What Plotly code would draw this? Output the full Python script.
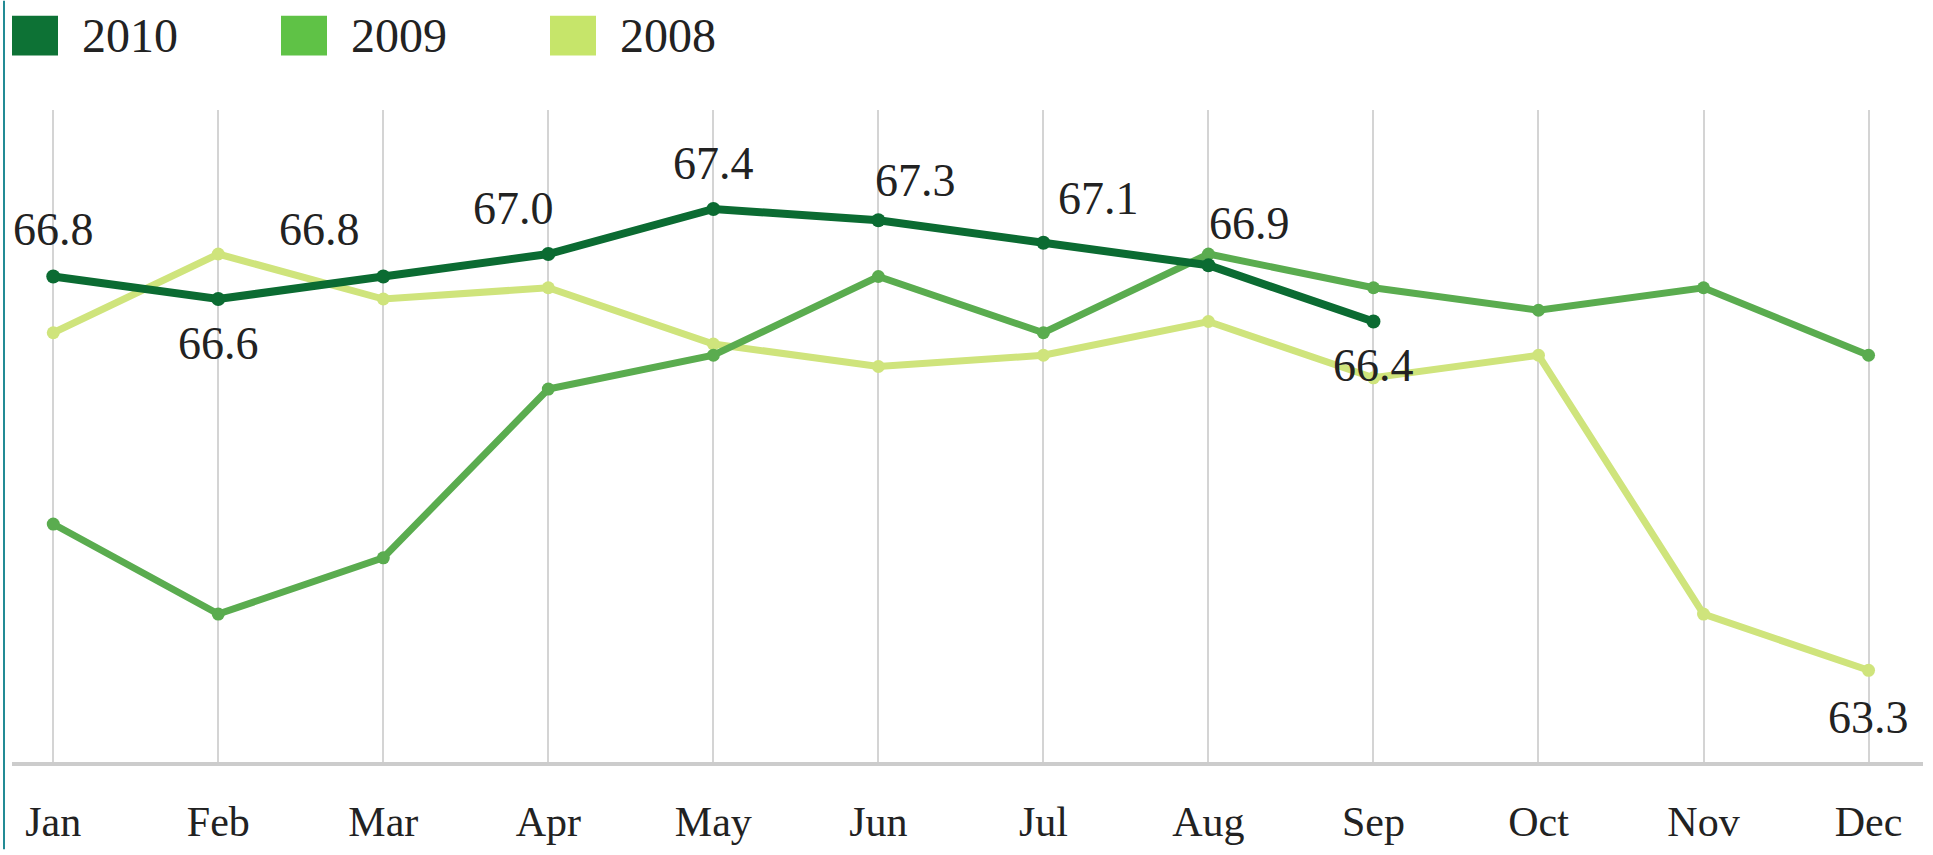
import plotly.graph_objects as go

# Monthly values by year
months = ["Jan", "Feb", "Mar", "Apr", "May", "Jun", "Jul", "Aug", "Sep", "Oct", "Nov", "Dec"]
values_2010 = [66.8, 66.6, 66.8, 67.0, 67.4, 67.3, 67.1, 66.9, 66.4]
values_2009 = [64.6, 63.8, 64.3, 65.8, 66.1, 66.8, 66.3, 67.0, 66.7, 66.5, 66.7, 66.1]
values_2008 = [66.3, 67.0, 66.6, 66.7, 66.2, 66.0, 66.1, 66.4, 65.9, 66.1, 63.8, 63.3]

series_names = ["2010", "2009", "2008"]
series_values = [values_2010, values_2009, values_2008]
series_colors = ["#0b6b32", "#5aac4f", "#cfe47c"]
legend_colors = ["#0d7235", "#5fc246", "#c6e56a"]
line_widths = [8, 7, 7]
marker_sizes = [14, 13, 13]

# Figure geometry (pixels)
W, H = 1933, 855
M_L, M_R, M_T, M_B = 12, 10, 110, 88
PLOT_W = W - M_L - M_R
PLOT_H = H - M_T - M_B

FONT = "Liberation Serif, Times New Roman, serif"
TEXT_COLOR = "#222222"


def px_x(x):
    return (x - M_L) / PLOT_W


def px_y(y):
    return (H - M_B - y) / PLOT_H


fig = go.Figure()

# draw older years first so 2010 sits on top
for name, vals, color, lw, ms in reversed(list(zip(series_names, series_values, series_colors, line_widths, marker_sizes))):
    fig.add_trace(go.Scatter(
        x=months[:len(vals)], y=vals, name=name, mode="lines+markers",
        line=dict(color=color, width=lw), marker=dict(color=color, size=ms),
        showlegend=False, hoverinfo="x+y+name",
    ))

# value labels for 2010 (offsets in pixels: dx, dy)
label_offsets_2010 = [(0, -47), (0, 44), (-64, -47), (-35, -46), (0, -46),
                      (37, -40), (55, -44), (41, -42), (0, 44)]
annotations = []
for m, v, (dx, dy) in zip(months, values_2010, label_offsets_2010):
    annotations.append(dict(
        x=m, y=v, text=f"{v:.1f}", showarrow=False, xanchor="center", yanchor="middle",
        xshift=dx, yshift=-dy, font=dict(family=FONT, size=46, color=TEXT_COLOR),
    ))
# December 2008 label
annotations.append(dict(
    x=months[11], y=values_2008[11], text=f"{values_2008[11]:.1f}", showarrow=False,
    xanchor="center", yanchor="middle", xshift=0, yshift=-47,
    font=dict(family=FONT, size=46, color=TEXT_COLOR),
))

# legend drawn as coloured squares with labels
shapes = []
for i, (name, color) in enumerate(zip(series_names, legend_colors)):
    x0 = 12 + i * 269
    shapes.append(dict(
        type="rect", xref="paper", yref="paper",
        x0=px_x(x0), x1=px_x(x0 + 46), y0=px_y(55), y1=px_y(15),
        fillcolor=color, line=dict(width=0),
    ))
    annotations.append(dict(
        xref="paper", yref="paper", x=px_x(x0 + 68), y=px_y(35), text=name,
        showarrow=False, xanchor="left", yanchor="middle",
        font=dict(family=FONT, size=48, color=TEXT_COLOR),
    ))

# thin frame line on the left edge
shapes.append(dict(
    type="line", xref="paper", yref="paper", x0=px_x(4), x1=px_x(4), y0=px_y(H), y1=px_y(0),
    line=dict(color="#238b95", width=2),
))

fig.update_layout(
    width=W, height=H,
    margin=dict(l=M_L, r=M_R, t=M_T, b=M_B),
    paper_bgcolor="white", plot_bgcolor="white",
    shapes=shapes, annotations=annotations,
    showlegend=False,
    xaxis=dict(
        type="category", categoryorder="array", categoryarray=months,
        range=[-0.25, 11.33], showgrid=True, gridcolor="#d4d4d4", gridwidth=2,
        showline=True, linecolor="#cccccc", linewidth=4, ticks="",
        tickfont=dict(family=FONT, size=42, color=TEXT_COLOR), ticklabelstandoff=20,
        zeroline=False, fixedrange=True,
    ),
    yaxis=dict(
        range=[62.485, 68.28], visible=False, showgrid=False, zeroline=False, fixedrange=True,
    ),
)

fig.write_html("out.html")
